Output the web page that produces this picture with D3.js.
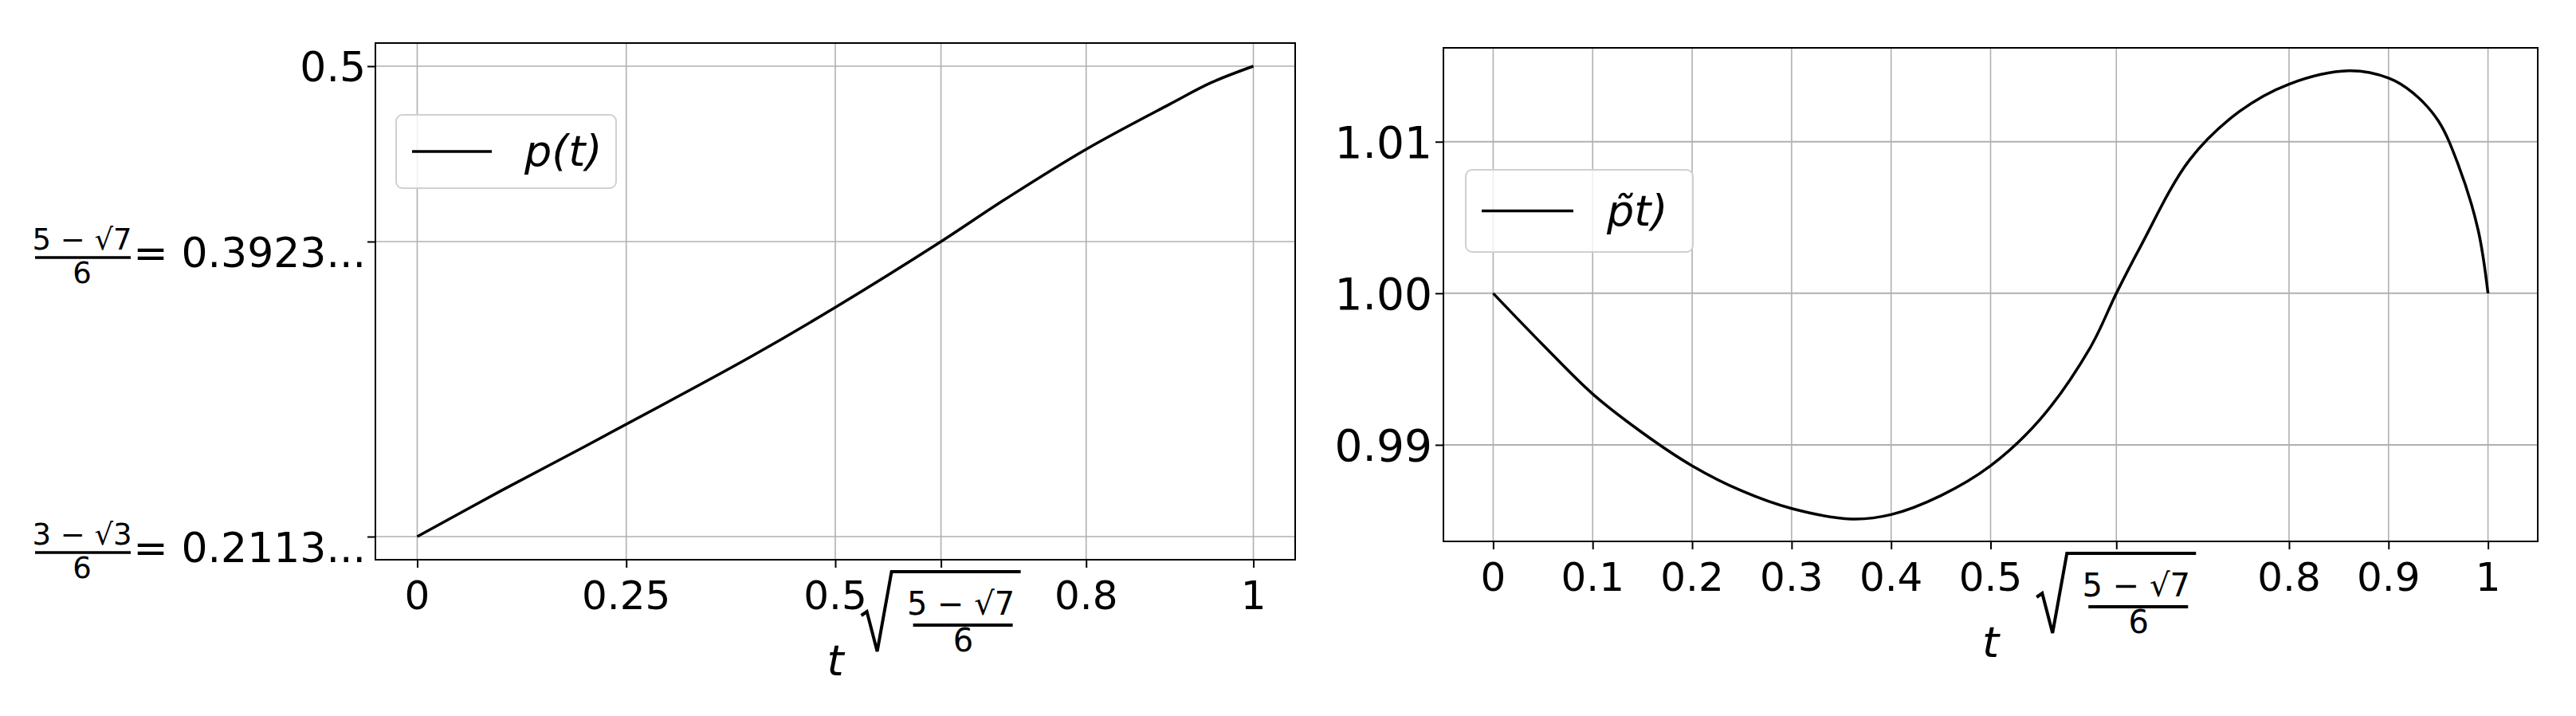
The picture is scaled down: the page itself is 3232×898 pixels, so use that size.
<!DOCTYPE html>
<html><head><meta charset="utf-8">
<script src="https://cdn.jsdelivr.net/npm/d3@7"></script>
<style>body{margin:0;background:#fff}text{font-family:"DejaVu Sans",sans-serif;fill:#000}</style>
</head><body><svg id="c" width="3232" height="898"></svg>
<script>
const S = Math.sqrt((5 - Math.sqrt(7)) / 6);
const Y1 = (3 - Math.sqrt(3)) / 6, Y2 = (5 - Math.sqrt(7)) / 6;
// left panel data p(t)
const pT = [0, 0.1, 0.2, 0.3, 0.4, 0.5, S, 0.7, 0.8, 0.9, 0.95, 1];
const pV = [Y1, 0.2394, 0.2665, 0.2940, 0.3220, 0.3520, Y2, 0.4173, 0.4490, 0.4767, 0.4900, 0.5];
const leftXTicks = [0, 0.25, 0.5, S, 0.8, 1];
const leftXLabels = ["0", "0.25", "0.5", "SQRT", "0.8", "1"];
const leftYTicks = [Y1, Y2, 0.5];
// right panel data p~(t)
const qT = [0, 0.05, 0.1, 0.15, 0.2, 0.25, 0.3, 0.36, 0.4, 0.45, 0.5, 0.55, 0.6, S, 0.65, 0.7, 0.75, 0.8, 0.86, 0.9, 0.925, 0.95, 0.97, 0.99, 1];
const qV = [1.0, 0.99660, 0.99336, 0.99080, 0.98862, 0.98696, 0.98580, 0.98511, 0.98540, 0.98665, 0.98862, 0.99170, 0.99640, 1.0, 1.0030, 1.0088, 1.01199, 1.01380, 1.01468, 1.01420, 1.0132, 1.01138, 1.0085, 1.0042, 1.0];
const rightXTicks = [0, 0.1, 0.2, 0.3, 0.4, 0.5, S, 0.8, 0.9, 1];
const rightXLabels = ["0", "0.1", "0.2", "0.3", "0.4", "0.5", "SQRT", "0.8", "0.9", "1"];
const rightYTicks = [0.99, 1.00, 1.01];
const rightYLabels = ["0.99", "1.00", "1.01"];

const svg = d3.select("#c");

function sqrtLabel(g, cx, yT) {
  const gg = g.append("g").attr("transform", `translate(${cx},${yT})`);
  gg.append("path").attr("d", "M-100,55 L-93,50 L-80,100 L-62,0 L100,0").attr("fill", "none").attr("stroke", "#000").attr("stroke-width", 4);
  gg.append("text").attr("x", 25).attr("y", 54).attr("text-anchor", "middle").attr("font-size", 40).text("5 − √7");
  gg.append("line").attr("x1", -35).attr("x2", 90).attr("y1", 67).attr("y2", 67).attr("stroke", "#000").attr("stroke-width", 4);
  gg.append("text").attr("x", 28).attr("y", 100).attr("text-anchor", "middle").attr("font-size", 40).text("6");
}

function panel(o) {
  const g = svg.append("g");
  const x = d3.scaleLinear().domain([-0.05, 1.05]).range([o.l, o.r]);
  const y = d3.scaleLinear().domain(o.yd).range([o.b, o.t]);
  g.selectAll(".gx").data(o.xt).join("line").attr("x1", d => x(d)).attr("x2", d => x(d)).attr("y1", o.t).attr("y2", o.b).attr("stroke", "#b0b0b0").attr("stroke-width", 1.6);
  g.selectAll(".gy").data(o.yt).join("line").attr("y1", d => y(d)).attr("y2", d => y(d)).attr("x1", o.l).attr("x2", o.r).attr("stroke", "#b0b0b0").attr("stroke-width", o.gyw);
  const xa = g.append("g").attr("transform", `translate(0,${o.b})`).call(d3.axisBottom(x).tickValues(o.xt).tickSize(10).tickFormat(""));
  xa.select(".domain").remove();
  xa.selectAll("line").attr("stroke-width", 2);
  o.xt.forEach((d, i) => {
    if (o.xl[i] === "SQRT") sqrtLabel(g, x(d), o.b + 15);
    else g.append("text").attr("x", x(d)).attr("y", o.b + 62).attr("text-anchor", "middle").attr("font-size", 50).text(o.xl[i]);
  });
  const ya = g.append("g").attr("transform", `translate(${o.l},0)`).call(d3.axisLeft(y).tickValues(o.yt).tickSize(10).tickFormat(""));
  ya.select(".domain").remove();
  ya.selectAll("line").attr("stroke-width", 2);
  o.ylab(g, y);
  g.append("path").datum(o.T.map((t, i) => [t, o.V[i]]))
    .attr("d", d3.line().x(d => x(d[0])).y(d => y(d[1])).curve(d3.curveCatmullRom.alpha(0.5)))
    .attr("fill", "none").attr("stroke", "#000").attr("stroke-width", 3.5);
  g.append("rect").attr("x", o.l).attr("y", o.t).attr("width", o.r - o.l).attr("height", o.b - o.t).attr("fill", "none").attr("stroke", "#000").attr("stroke-width", 2);
  g.append("text").attr("x", (o.l + o.r) / 2).attr("y", o.b + 145).attr("text-anchor", "middle").attr("font-size", 54).attr("font-style", "italic").text("t");
  const L = o.leg;
  g.append("rect").attr("x", L.x).attr("y", L.y).attr("width", L.w).attr("height", L.h).attr("rx", 8).attr("fill", "#fff").attr("fill-opacity", 0.8).attr("stroke", "#d0d0d0").attr("stroke-width", 2);
  g.append("line").attr("x1", L.x + 20).attr("x2", L.x + 20 + L.lw).attr("y1", L.y + L.h / 2).attr("y2", L.y + L.h / 2).attr("stroke", "#000").attr("stroke-width", 3.5);
  g.append("text").attr("x", L.tx).attr("y", L.y + L.h / 2 + 18).attr("font-size", 54).attr("font-style", "italic").text(L.text);
}

panel({
  l: 471, r: 1625, t: 54, b: 702, yd: [Y1 - 29 / 2044, 0.5 + 29 / 2044],
  xt: leftXTicks, xl: leftXLabels, yt: leftYTicks, T: pT, V: pV, gyw: 1.6,
  ylab: (g, y) => {
    g.append("text").attr("x", 459).attr("y", y(0.5) + 19).attr("text-anchor", "end").attr("font-size", 52).text("0.5");
    [[Y2, "5 − √7", "0.3923..."], [Y1, "3 − √3", "0.2113..."]].forEach(([v, num, val]) => {
      const ty = y(v);
      g.append("text").attr("x", 459).attr("y", ty + 32).attr("text-anchor", "end").attr("font-size", 52).text("= " + val);
      g.append("text").attr("x", 103).attr("y", ty + 10).attr("text-anchor", "middle").attr("font-size", 37).text(num);
      g.append("line").attr("x1", 44).attr("x2", 164).attr("y1", ty + 20).attr("y2", ty + 20).attr("stroke", "#000").attr("stroke-width", 3.5);
      g.append("text").attr("x", 103).attr("y", ty + 52).attr("text-anchor", "middle").attr("font-size", 37).text("6");
    });
  },
  leg: { x: 497, y: 144, w: 276, h: 92, lw: 100, tx: 658, text: "p(t)" }
});

panel({
  l: 1811, r: 3184, t: 60, b: 679, yd: [1 - 311 / 19000, 1 + 307.7 / 19000],
  xt: rightXTicks, xl: rightXLabels, yt: rightYTicks, T: qT, V: qV, gyw: 2,
  ylab: (g, y) => {
    rightYTicks.forEach((v, i) => g.append("text").attr("x", 1797).attr("y", y(v) + 20).attr("text-anchor", "end").attr("font-size", 55).text(rightYLabels[i]));
  },
  leg: { x: 1839, y: 213, w: 285, h: 103, lw: 115, tx: 2016, text: "p̃t)" }
});
</script></body></html>
